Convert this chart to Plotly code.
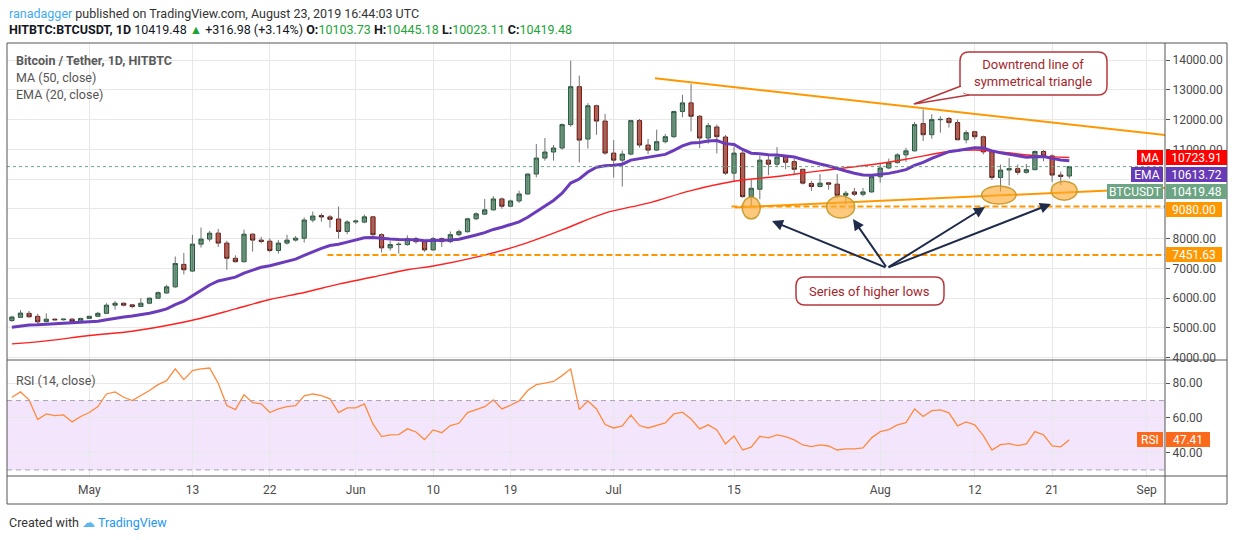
import pandas as pd
import plotly.graph_objects as go

W, H = 1234, 540
LEFT, RIGHT, TOP, MID, BOTTOM = 7, 1165, 43, 360, 476   # plot box, pixels
FONT = "Roboto"

# ---- data (HITBTC BTCUSDT, daily) ----
dates = pd.date_range("2019-04-22", periods=124, freq="D")
opens = [5250, 5355, 5490, 5390, 5215, 5295, 5275, 5295, 5205,
         5320, 5390, 5490, 5765, 5830, 5775, 5720, 5830, 6000, 6175,
         6380, 7135, 6910, 7815, 7985, 8185, 7850, 7340, 7225, 8150,
         7950, 7915, 7600, 7850, 7950, 8015, 8625, 8775, 8730, 8660, 8240,
         8560, 8555, 8733, 8133, 7690, 7800, 7800, 8000, 7900, 7622,
         8000, 7900, 8133, 8233, 8667, 8822, 8967, 9333, 9089, 9267,
         9500, 10170, 10707, 10910, 11045, 11830, 13105, 11345, 12465, 11950,
         10874, 10637, 10840, 11965, 11144, 10975, 11256, 11425, 12270, 12560,
         12110, 11380, 11751, 11414, 10200, 10874, 9411, 9659, 10637, 10502,
         10757, 10587, 10328, 9853, 9751, 9875, 9830, 9457, 9570, 9491, 9570,
         10080, 10373, 10554, 10813, 10949, 11864, 11492, 11995, 12034, 11898,
         11322, 11593, 11424, 10915, 10056, 10305, 10350, 10226, 10316, 10927,
         10780, 10136, 10103.73]
highs = [5410, 5600, 5570, 5480, 5490, 5320, 5310, 5335, 5340,
         5410, 5540, 5830, 5910, 5850, 5800, 6000, 6020, 6230, 6450,
         7400, 7520, 8130, 8370, 8260, 8330, 7930, 7440, 8300, 8180,
         8060, 8010, 7950, 8130, 8090, 8710, 8910, 8850, 8790, 9080, 8620,
         8640, 8810, 8760, 8180, 7920, 7880, 8110, 8060, 7920, 8060,
         8040, 8240, 8300, 8700, 8880, 9333, 9430, 9380, 9310, 9610,
         10190, 11180, 11380, 11145, 11870, 13980, 13475, 12550, 12500, 12190,
         11312, 10960, 11990, 12020, 11350, 11660, 11520, 12300, 12830, 13200,
         12150, 11890, 11830, 11480, 11090, 10960, 9980, 10790, 10790, 11076,
         10800, 10680, 10340, 9940, 10170, 9890, 10170, 9600, 9700, 9700, 10100,
         10530, 10690, 10870, 11050, 11920, 12340, 12180, 12110, 12090, 12000,
         11640, 11620, 11460, 10930, 10490, 10710, 10490, 10510, 10960, 10980,
         10830, 10250, 10445.18]
lows = [5205, 5330, 5345, 5115, 5180, 5250, 5250, 5190, 5190,
        5300, 5370, 5465, 5615, 5720, 5660, 5700, 5800, 5980, 6150,
        6350, 6800, 6880, 7700, 7900, 7720, 6955, 7200, 7200, 7565,
        7840, 7540, 7500, 7800, 7900, 7870, 8550, 8570, 8370, 8000, 8150,
        8490, 8520, 8100, 7533, 7600, 7500, 7760, 7830, 7560, 7590,
        7720, 7850, 8080, 8200, 8620, 8790, 8940, 9000, 9060, 9200,
        9480, 10060, 10620, 10620, 10990, 11760, 10560, 11030, 11490, 10820,
        10052, 9750, 10800, 11060, 10840, 10940, 11200, 11390, 12077, 11605,
        11043, 11190, 10862, 10140, 9906, 9377, 9096, 9321, 10130, 10400,
        10339, 10147, 9820, 9600, 9720, 9643, 9360, 9150, 9430, 9420, 9540,
        9880, 10330, 10520, 10580, 10930, 11280, 11360, 11560, 11730, 11300,
        11200, 11330, 10830, 9970, 9582, 9785, 10140, 10180, 10300, 10600,
        9900, 9797, 10023.11]
closes = [5365, 5500, 5375, 5205, 5295, 5275, 5295, 5215, 5320,
          5390, 5490, 5765, 5830, 5765, 5720, 5830, 6000, 6185, 6380,
          7165, 6955, 7815, 7985, 8185, 7850, 7340, 7225, 8150, 7950,
          7905, 7600, 7850, 7950, 8015, 8625, 8760, 8730, 8650, 8240, 8560,
          8590, 8733, 8133, 7690, 7800, 7810, 8000, 7900, 7622, 8000,
          7900, 8133, 8233, 8667, 8833, 8967, 9333, 9089, 9267, 9500,
          10170, 10707, 10910, 11045, 11830, 13105, 11310, 12465, 11950, 10875,
          10637, 10840, 11965, 11144, 10975, 11256, 11425, 12270, 12560, 12110,
          11380, 11796, 11425, 10200, 10874, 9411, 9692, 10637, 10502, 10739,
          10565, 10328, 9864, 9751, 9864, 9830, 9457, 9525, 9491, 9570, 10080,
          10373, 10554, 10813, 10949, 11830, 11492, 12000, 12005, 11898, 11322,
          11560, 11424, 10915, 10056, 10305, 10350, 10226, 10316, 10927, 10780,
          10136, 10090, 10419.48]

ema20 = [5020, 5066, 5095, 5105, 5123, 5137, 5152, 5158, 5173,
         5194, 5222, 5274, 5327, 5369, 5402, 5443, 5496, 5562, 5640,
         5785, 5896, 6079, 6260, 6443, 6577, 6650, 6705, 6843, 6948,
         7039, 7092, 7164, 7239, 7313, 7438, 7564, 7675, 7768, 7813, 7884,
         7951, 8026, 8036, 8003, 7984, 7967, 7970, 7963, 7931, 7938,
         7934, 7953, 7980, 8045, 8120, 8201, 8309, 8383, 8467, 8565,
         8718, 8907, 9098, 9283, 9526, 9867, 10004, 10238, 10401, 10446,
         10464, 10500, 10639, 10687, 10714, 10766, 10829, 10966, 11118, 11212,
         11228, 11282, 11296, 11192, 11162, 10995, 10871, 10849, 10816, 10809,
         10786, 10742, 10659, 10573, 10506, 10442, 10348, 10270, 10196, 10136, 10131,
         10154, 10192, 10251, 10317, 10461, 10559, 10696, 10820, 10922, 10960,
         11017, 11056, 11043, 10949, 10888, 10837, 10779, 10735, 10753, 10756,
         10697, 10639, 10613.72]

ma50_dates = ["2019-04-22", "2019-04-26", "2019-05-01", "2019-05-06", "2019-05-10",
              "2019-05-14", "2019-05-18", "2019-05-22", "2019-05-26", "2019-05-30",
              "2019-06-03", "2019-06-07", "2019-06-10", "2019-06-15", "2019-06-20",
              "2019-06-25", "2019-06-30", "2019-07-05", "2019-07-10", "2019-07-15",
              "2019-07-20", "2019-07-25", "2019-07-30", "2019-08-04", "2019-08-09",
              "2019-08-12", "2019-08-14", "2019-08-19", "2019-08-23"]
ma50 = [4464, 4565, 4745, 4890, 5080, 5326, 5640, 5954, 6190, 6470,
        6710, 6955, 7080, 7380, 7773, 8295, 8858, 9194, 9615, 9927,
        10088, 10277, 10447, 10668, 10929, 10979, 10941, 10789, 10723.91]

rsi14 = [71.9, 75.0, 70.4, 59.0, 62.3, 61.3, 61.7, 57.7, 60.8, 63.1,
         66.5, 73.8, 75.0, 71.9, 70.0, 72.9, 75.8, 79.2, 81.5, 88.3,
         82.1, 87.3, 88.3, 88.8, 80.0, 67.1, 64.8, 73.3, 68.8, 68.1,
         63.1, 65.2, 66.5, 67.1, 72.7, 73.8, 72.9, 71.0, 63.1, 65.8,
         65.8, 68.1, 56.5, 49.2, 50.2, 50.4, 53.7, 51.9, 47.5, 53.1,
         51.5, 55.6, 56.9, 63.1, 64.6, 66.5, 70.4, 65.2, 67.3, 69.8,
         75.8, 79.2, 80.0, 81.0, 84.4, 88.3, 64.8, 69.8, 65.2, 56.2,
         54.2, 55.4, 61.7, 55.6, 54.2, 55.8, 57.1, 62.3, 63.3, 59.4,
         53.7, 56.0, 53.1, 45.0, 49.6, 41.5, 43.1, 49.4, 48.5, 50.2,
         49.2, 47.3, 44.4, 43.5, 44.4, 43.8, 41.5, 42.1, 42.1, 42.7,
         48.5, 52.1, 53.3, 56.0, 57.3, 65.2, 60.8, 64.2, 64.6, 62.9,
         55.4, 57.7, 56.0, 49.8, 41.5, 44.6, 45.2, 44.0, 45.0, 52.1,
         50.2, 43.8, 43.3, 47.41]

levels = [9080.00, 7451.63]
last_price = closes[-1]

price_ticks = list(range(4000, 15000, 1000))
# 9000 and 10000 sit under the price badges, so their labels never show
price_labels = ["" if v in (9000, 10000) else f"{v:.2f}" for v in price_ticks]

tick_dates = ["2019-05-01", "2019-05-13", "2019-05-22", "2019-06-01", "2019-06-10", "2019-06-19",
              "2019-07-01", "2019-07-15", "2019-08-01", "2019-08-12", "2019-08-21", "2019-09-01"]
tick_text = ["May", "13", "22", "Jun", "10", "19", "Jul", "15", "Aug", "12", "21", "Sep"]

start = dates[0]


def day(i):
    return str(start + pd.Timedelta(days=i))


def px(x):
    return (x - LEFT) / (RIGHT - LEFT)


def py(y):
    return (BOTTOM - y) / (BOTTOM - TOP)


X0, X1 = day(-0.57), day(134.13)
split = py(MID)

fig = go.Figure()

# wicks in grey, bodies on top
wx, wy = [], []
for d, lo, hi in zip(dates, lows, highs):
    wx += [d, d, None]
    wy += [lo, hi, None]
fig.add_trace(go.Scatter(x=wx, y=wy, mode="lines", line=dict(color="#737375", width=1),
                         hoverinfo="skip"))
fig.add_trace(go.Candlestick(
    x=dates, open=opens, close=closes,
    high=[max(o, c) for o, c in zip(opens, closes)],
    low=[min(o, c) for o, c in zip(opens, closes)],
    increasing=dict(fillcolor="#6ba583", line=dict(color="#225437", width=1)),
    decreasing=dict(fillcolor="#d75442", line=dict(color="#5b1a13", width=1)),
    whiskerwidth=0))

fig.add_trace(go.Scatter(x=ma50_dates, y=ma50, mode="lines", line_shape="spline",
                         line=dict(color="#ff2020", width=1.4)))
fig.add_trace(go.Scatter(x=dates, y=ema20, mode="lines",
                         line=dict(color="#6a3cbc", width=3)))
fig.add_trace(go.Scatter(x=dates, y=rsi14, mode="lines", yaxis="y2",
                         line=dict(color="#ff8a3d", width=1.3)))

shapes = []
# RSI band
shapes.append(dict(type="rect", xref="paper", yref="y2", x0=0, x1=1, y0=30, y1=70,
                   fillcolor="#f3e6fc", line_width=0, layer="below"))
for lv in (70, 30):
    shapes.append(dict(type="line", xref="paper", yref="y2", x0=0, x1=1, y0=lv, y1=lv,
                       line=dict(color="#aaa2b4", width=1, dash="5px,4px")))
# last price
shapes.append(dict(type="line", xref="paper", yref="y", x0=0, x1=1, y0=last_price, y1=last_price,
                   line=dict(color="#6ba583", width=1, dash="3px,3px")))
# horizontal levels
for lv, d0 in zip(levels, [83.7, 36.7]):
    shapes.append(dict(type="line", xref="x", yref="y", x0=day(d0), x1=X1, y0=lv, y1=lv,
                       line=dict(color="#ff9800", width=2, dash="6px,3px")))
# trend lines
trend_lines = [((74.8, 13386), (134.13, 11482)), ((84.1, 9043), (134.13, 9705))]
for (d0, p0), (d1, p1) in trend_lines:
    shapes.append(dict(type="line", xref="x", yref="y", x0=day(d0), x1=day(d1), y0=p0, y1=p1,
                       line=dict(color="#ff9800", width=2)))
# higher lows ellipses
ellipses = [(86.0, 9030, 1.05, 370), (96.4, 9063, 1.63, 370),
            (114.8, 9466, 2.0, 302), (122.4, 9611, 1.5, 319)]
for cd, cp, rd, rp in ellipses:
    shapes.append(dict(type="circle", xref="x", yref="y", x0=day(cd - rd), x1=day(cd + rd),
                       y0=cp - rp, y1=cp + rp, fillcolor="rgba(255,168,45,0.62)",
                       line=dict(color="rgba(196,152,40,0.9)", width=1.5), layer="above"))


def rrect(x0, y0, x1, y1, r):
    def p(x, y):
        return f"{px(x):.5f},{py(y):.5f}"
    return (f"M {p(x0 + r, y0)} L {p(x1 - r, y0)} Q {p(x1, y0)} {p(x1, y0 + r)} "
            f"L {p(x1, y1 - r)} Q {p(x1, y1)} {p(x1 - r, y1)} L {p(x0 + r, y1)} "
            f"Q {p(x0, y1)} {p(x0, y1 - r)} L {p(x0, y0 + r)} Q {p(x0, y0)} {p(x0 + r, y0)} Z")


box_red = "#b5393c"
shapes.append(dict(type="path", xref="paper", yref="paper", path=rrect(960, 52, 1107, 95, 9),
                   fillcolor="white", line=dict(color=box_red, width=1.5)))
shapes.append(dict(type="path", xref="paper", yref="paper", path=rrect(796, 277, 944, 305, 9),
                   fillcolor="white", line=dict(color=box_red, width=1.5)))
tip, a, b = (914, 104), (961, 86), (969, 95)
shapes.append(dict(type="path", xref="paper", yref="paper",
                   path=f"M {px(tip[0])},{py(tip[1])} L {px(a[0])},{py(a[1])} L {px(a[0] + 3)},{py(b[1] - 1)} "
                        f"L {px(b[0])},{py(b[1])} Z",
                   fillcolor="white", line_width=0))
shapes.append(dict(type="path", xref="paper", yref="paper",
                   path=f"M {px(a[0])},{py(a[1])} L {px(tip[0])},{py(tip[1])} L {px(b[0])},{py(b[1])}",
                   line=dict(color=box_red, width=1.5)))

# frame
frame = "#555555"
for y in (TOP, MID, BOTTOM, 504):
    shapes.append(dict(type="line", xref="paper", yref="paper", x0=px(LEFT), x1=px(1227),
                       y0=py(y), y1=py(y), line=dict(color=frame, width=1)))
for x in (LEFT, RIGHT, 1227):
    shapes.append(dict(type="line", xref="paper", yref="paper", x0=px(x), x1=px(x),
                       y0=py(TOP), y1=py(504), line=dict(color=frame, width=1)))

ann = []


def text(x, y, s, size=12.5, color="#555555", anchor="left"):
    ann.append(dict(xref="paper", yref="paper", x=px(x), y=py(y), text=s, showarrow=False,
                    xanchor=anchor, yanchor="middle", font=dict(family=FONT, size=size, color=color)))


green = "#21a336"
text(7, 13, "<span style='color:#3fa9f5'>ranadagger</span> published on TradingView.com, "
            "August 23, 2019 16:44:03 UTC", color="#333333")
text(7, 29, f"<b>HITBTC:BTCUSDT, 1D</b> 10419.48 <span style='color:{green}'>▲</span> +316.98 (+3.14%) "
            f"<b>O:</b><span style='color:{green}'>10103.73</span> <b>H:</b><span style='color:{green}'>10445.18</span> "
            f"<b>L:</b><span style='color:{green}'>10023.11</span> <b>C:</b><span style='color:{green}'>10419.48</span>",
     color="#131722")
text(14, 60, "<b>Bitcoin / Tether, 1D, HITBTC</b>", color="#5a5a5a")
text(14, 78, "MA (50, close)")
text(14, 95, "EMA (20, close)")
text(14, 380, "RSI (14, close)")
text(1033, 73, "Downtrend line of<br>symmetrical triangle", size=13, color="#a3282c", anchor="center")
text(870, 291, "Series of higher lows", size=13, color="#a3282c", anchor="center")
text(7, 522, "Created with <span style='color:#5cb8ec'>☁</span> "
             "<span style='color:#2196f3'>TradingView</span>", color="#333333")

hub = (887, 268)
for hx, hy in [(772, 221), (853, 219), (985, 207), (1051, 204)]:
    ann.append(dict(xref="paper", yref="paper", x=px(hx), y=py(hy), ax=hub[0] - hx, ay=hub[1] - hy,
                    axref="pixel", ayref="pixel", text="", showarrow=True, arrowhead=2,
                    arrowsize=1.1, arrowwidth=2, arrowcolor="#1e2b4a"))


def badge(value, yref, label, color, lab_w, val_w, yshift=0):
    common = dict(xref="paper", yref=yref, y=value, yanchor="middle", showarrow=False,
                  bgcolor=color, height=15, borderpad=0, borderwidth=0, yshift=yshift,
                  align="center", font=dict(family=FONT, size=12, color="white"))
    ann.append(dict(x=1, xanchor="left", xshift=1, text=f"{value:.2f}", width=val_w, **common))
    if label:
        ann.append(dict(x=1, xanchor="right", xshift=-2, text=label, width=lab_w, **common))


badge(ma50[-1], "y", "MA", "#ff0000", 26, 61)
badge(ema20[-1], "y", "EMA", "#673ab7", 32, 61, yshift=-14)
badge(last_price, "y", "BTCUSDT", "#6ba583", 56, 61, yshift=-25)
badge(levels[0], "y", "", "#ff9800", 0, 56, yshift=-3)
badge(levels[1], "y", "", "#ff9800", 0, 56)
badge(rsi14[-1], "y2", "RSI", "#fb6a1c", 26, 44)

grid = "#e8e8e8"
axis_font = dict(family=FONT, size=12, color="#4a4a4a")
fig.update_layout(
    width=W, height=H,
    margin=dict(l=LEFT, r=W - RIGHT, t=TOP, b=H - BOTTOM),
    paper_bgcolor="white", plot_bgcolor="white", showlegend=False, hovermode=False,
    xaxis=dict(type="date", range=[X0, X1], anchor="y2", tickvals=tick_dates, ticktext=tick_text,
               showgrid=True, gridcolor=grid, zeroline=False, showline=False, ticks="",
               ticklabelstandoff=5, tickfont=axis_font, rangeslider=dict(visible=False)),
    yaxis=dict(domain=[split, 1], range=[3923, 14572], side="right", anchor="x",
               tickvals=price_ticks, ticktext=price_labels, ticks="outside",
               ticklen=4, tickcolor="#555555", showgrid=True, gridcolor=grid, zeroline=False,
               tickfont=axis_font),
    yaxis2=dict(domain=[0, split], range=[26.5, 93.4], side="right", anchor="x",
                tickvals=[40, 60, 80], tickformat=".2f", ticks="outside", ticklen=4,
                tickcolor="#555555", showgrid=True, gridcolor=grid, zeroline=False,
                tickfont=axis_font),
    shapes=shapes, annotations=ann,
)

# drop the browser's default 8px body margin so the figure sits at the page corner
fig.write_html("out.html", config={"displayModeBar": False},
               post_script="document.body.style.margin='0px';")
